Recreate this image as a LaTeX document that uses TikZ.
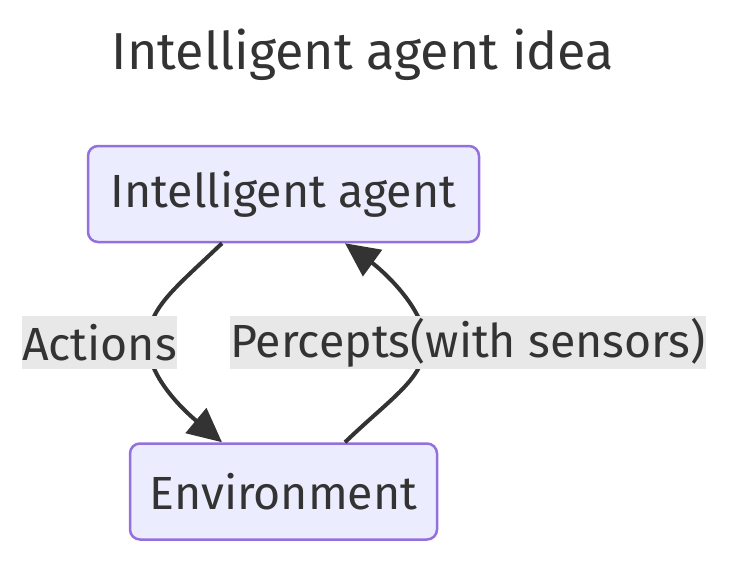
\documentclass[tikz,border=0pt]{standalone}
\usepackage{fontspec}
\setmainfont{Fira Sans}
\usetikzlibrary{calc,arrows.meta}
\definecolor{boxfill}{HTML}{ECECFF}
\definecolor{boxline}{HTML}{9370DB}
\definecolor{inkgray}{HTML}{333333}
\definecolor{labelbg}{HTML}{E8E8E8}
\tikzset{
  titletext/.style={text=inkgray, font=\fontsize{52}{60}\selectfont},
  agentbox/.style={draw=boxline, fill=boxfill, line width=2.5pt, rounded corners=10pt,
    minimum width=391pt, minimum height=96pt, text=inkgray, font=\fontsize{46.5}{54}\selectfont},
  edgelabel/.style={fill=labelbg, text=inkgray, inner sep=0pt, minimum height=53pt,
    font=\fontsize{46.5}{54}\selectfont},
  flow/.style={draw=inkgray, line width=4pt, -{Triangle[length=34pt,width=32pt]}}
}

\begin{document}
\begin{tikzpicture}[x=1pt,y=-1pt]
	%%%%% START %%%%%
	\useasboundingbox (0,0) rectangle (750,582);
	
	\node[titletext] (title) at (363,55) {Intelligent agent idea};
	
	\node[agentbox] (agent) at (283.5,194) {Intelligent agent};
	\node[agentbox, minimum width=307pt] (env) at (283.5,491.5) {Environment};
	
	\coordinate (actbend) at (148,343);
	\coordinate (percbend) at (425,343);
	
	\draw[flow] ([xshift=-61.5pt]agent.south) .. controls +(-48,46) and +(0,-35) .. (actbend)
		.. controls +(0,35) and +(-36,-30) .. ([xshift=-61.5pt]env.north);
	\draw[flow] ([xshift=61.5pt]env.north) .. controls +(48,-46) and +(0,35) .. (percbend)
		.. controls +(0,-35) and +(36,26) .. ([xshift=61.5pt]agent.south);
	
	\node[edgelabel, minimum width=153pt] (actlabel) at (99.5,342.5) {Actions};
	\node[edgelabel, minimum width=470pt] (perclabel) at (468,342.5) {Percepts(with sensors)};
	%%%%% END %%%%%
\end{tikzpicture}
\end{document}
